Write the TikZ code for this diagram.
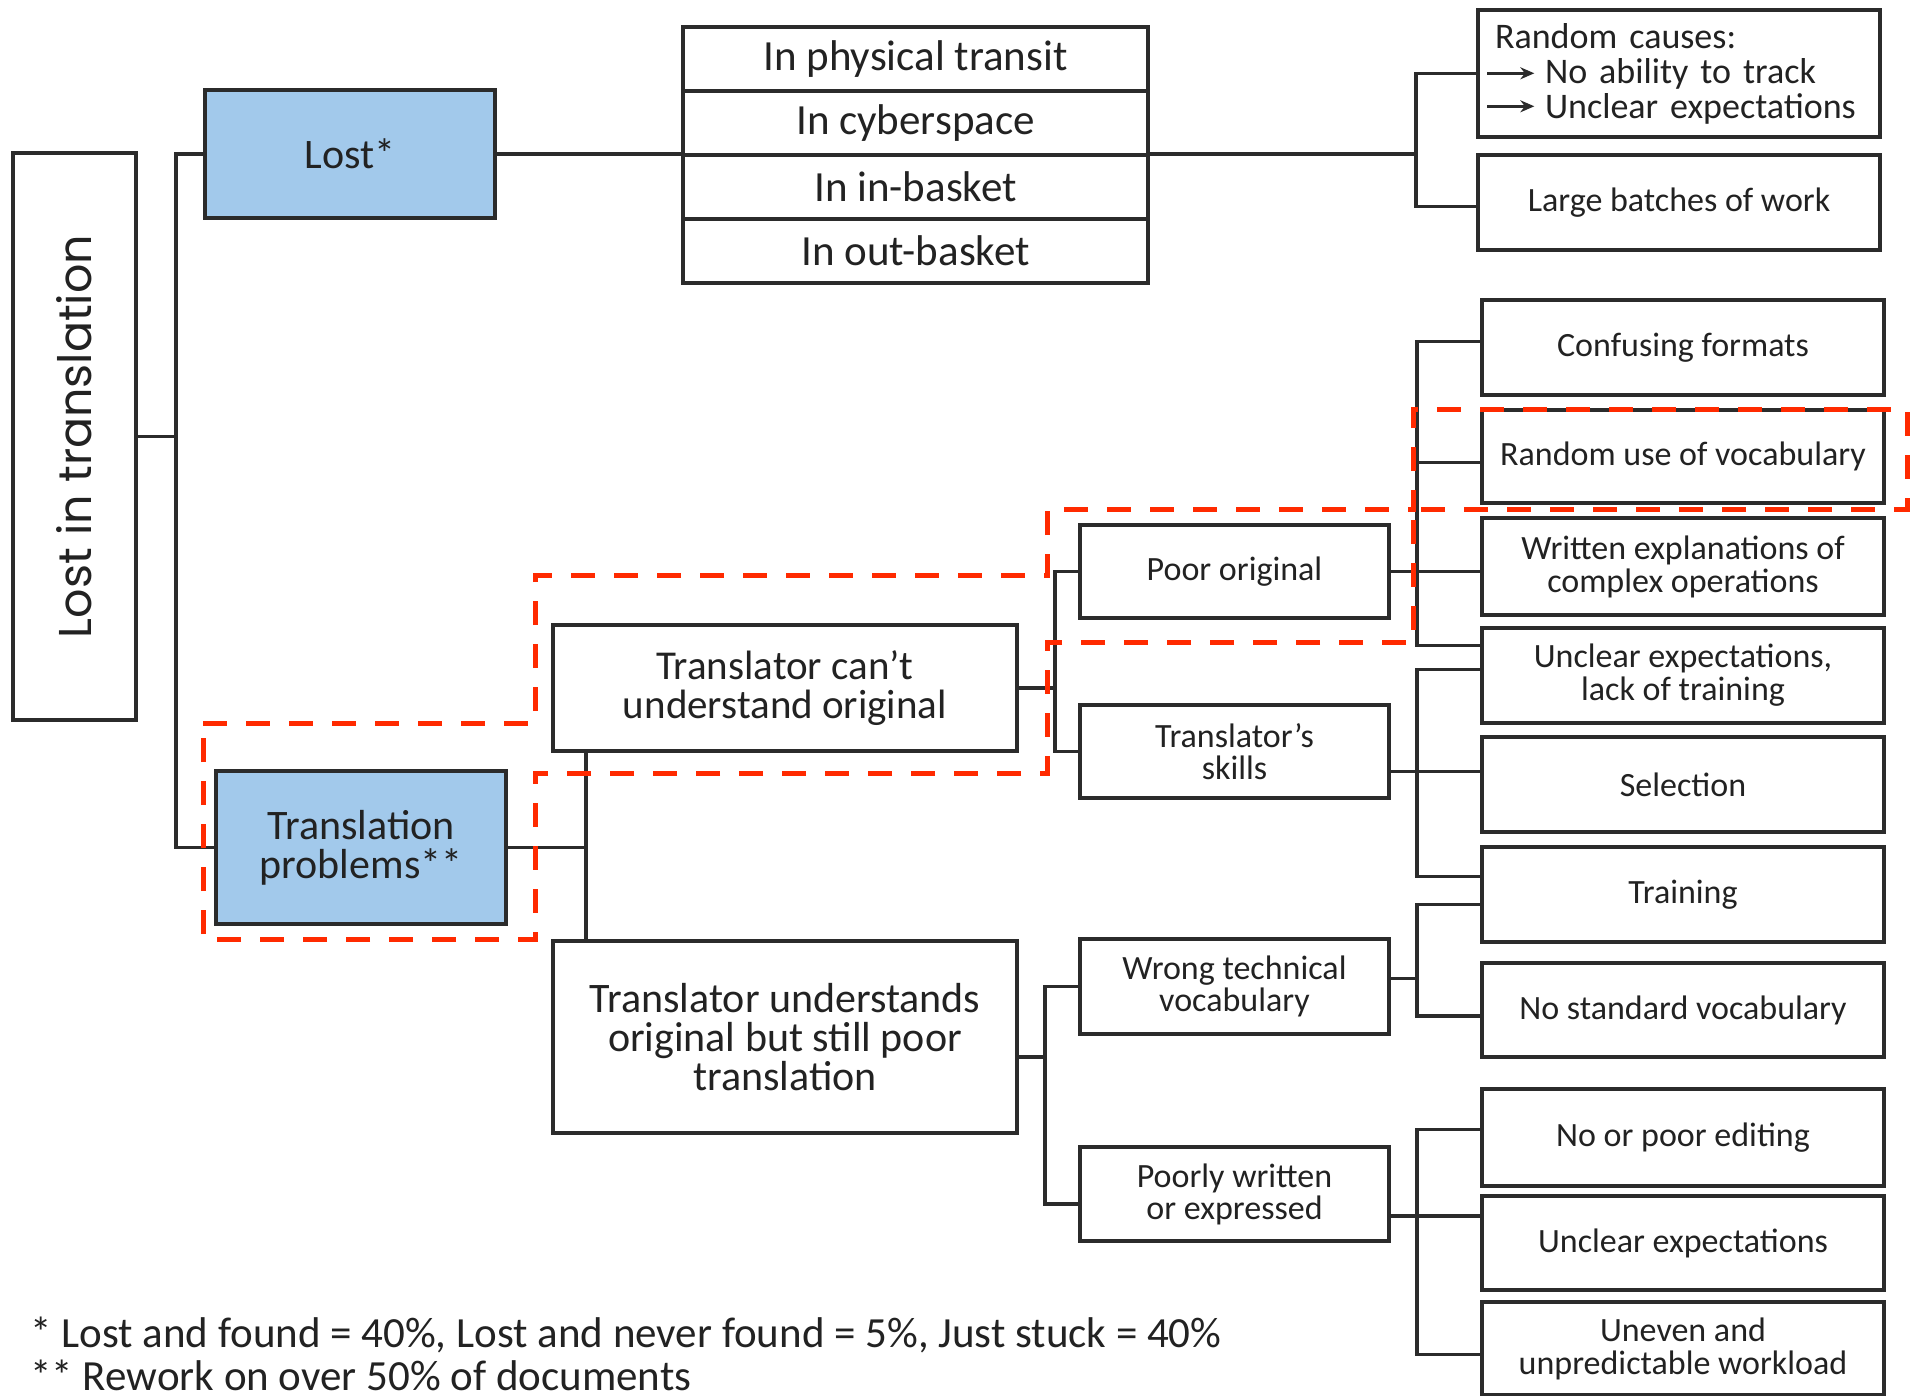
\documentclass[tikz,border=0pt]{standalone}
\usepackage{fontspec}
\setmainfont{Carlito}
\newfontfamily\poppfont{Poppins}
\usetikzlibrary{arrows.meta}
\definecolor{boxline}{HTML}{2B2B2B}
\definecolor{lblue}{HTML}{A2C9EB}
\definecolor{dred}{HTML}{FF2A00}
\definecolor{txt}{HTML}{222222}
\begin{document}
\begin{tikzpicture}[x=0.5pt,y=-0.5pt,
  box/.style={draw=boxline, line width=1.7pt, fill=white, inner sep=0pt, align=center, text=txt},
  bluebox/.style={box, fill=lblue},
  rbox/.style={box, minimum width=201pt, font=\fontsize{17}{16.5}\selectfont},
  mbox/.style={box, minimum width=154.5pt, font=\fontsize{17}{16}\selectfont},
  tbox/.style={box, minimum width=232.5pt, minimum height=32pt, font=\fontsize{21.5}{23}\selectfont},
  conn/.style={draw=boxline, line width=1.6pt},
  hilite/.style={draw=dred, line width=2.5pt, dash pattern=on 12pt off 9.5pt, line join=miter}]
\useasboundingbox (0,0) rectangle (1910,1396);
\fill[white] (0,0) rectangle (1910,1396);

% bracket columns
\coordinate (b0) at (176,0);
\coordinate (b1) at (1416,0);
\coordinate (b2) at (586,0);
\coordinate (b3) at (1055,0);
\coordinate (b4) at (1417,0);
\coordinate (b5) at (1045,0);

% nodes
\node[box, rotate=90, minimum width=283.5pt, minimum height=61.5pt, font=\poppfont\fontsize{23}{25}\selectfont] (LT) at (74.5,436.5) {Lost in translation};
\node[bluebox, minimum width=145pt, minimum height=64pt, font=\fontsize{21}{23}\selectfont] (Lost) at (350,154) {Lost*};
\node[tbox] (T1) at (915.5,59) {In physical transit};
\node[tbox] (T2) at (915.5,123) {In cyberspace};
\node[tbox] (T3) at (915.5,187) {In in-basket};
\node[tbox] (T4) at (915.5,251) {In out-basket};

\node[box, minimum width=201pt, minimum height=63.5pt, text width=191pt, inner xsep=5pt, align=left, font=\fontsize{18}{17.5}\selectfont] (RC) at (1679,73.5) {\hspace*{3.5pt}Random causes:\\\hspace*{28.5pt}No ability to track\\\hspace*{28.5pt}Unclear expectations};
\node[rbox, minimum height=47.5pt] (LB) at (1679,202.5) {Large batches of work};
\node[rbox, minimum height=47.5pt] (CF) at (1683,347.5) {Confusing formats};
\node[rbox, minimum height=46.5pt] (RU) at (1683,456.5) {Random use of vocabulary};
\node[rbox, minimum height=48.5pt] (WE) at (1683,566.5) {Written explanations of\\complex operations};
\node[rbox, minimum height=47.5pt] (UL) at (1683,675.5) {Unclear expectations,\\lack of training};
\node[rbox, minimum height=47.5pt] (SE) at (1683,784.5) {Selection};
\node[rbox, minimum height=47.5pt] (TR) at (1683,894.5) {Training};
\node[rbox, minimum height=47pt] (NS) at (1683,1010) {No standard vocabulary};
\node[rbox, minimum height=48.5pt] (NP) at (1683,1137.5) {No or poor editing};
\node[rbox, minimum height=47pt] (UE) at (1683,1243) {Unclear expectations};
\node[rbox, minimum height=46.5pt] (UN) at (1683,1348.5) {Uneven and\\unpredictable workload};

\node[mbox, minimum height=46.5pt] (PO) at (1234.5,571.5) {Poor original};
\node[mbox, minimum height=46.5pt] (SK) at (1234.5,751.5) {Translator’s\\skills};
\node[mbox, minimum height=47.5pt] (WT) at (1234.5,986.5) {Wrong technical\\vocabulary};
\node[mbox, minimum height=47pt] (PW) at (1234.5,1194) {Poorly written\\or expressed};

\node[box, minimum width=232pt, minimum height=63pt, font=\fontsize{20.5}{19.5}\selectfont] (CU) at (785,688) {Translator can’t\\understand original};
\node[box, minimum width=232pt, minimum height=96pt, font=\fontsize{21}{19.5}\selectfont] (UD) at (785,1037) {Translator understands\\original but still poor\\translation};
\node[bluebox, minimum width=145pt, minimum height=76.5pt, font=\fontsize{21}{19.5}\selectfont] (TP) at (361,847.5) {Translation\\problems**};

% arrows inside Random causes box
\draw[conn, line width=1.3pt, -{Stealth[length=7pt,width=6pt]}] ([xshift=5.5pt,yshift=-32.5pt]RC.north west) -- ([xshift=29pt,yshift=-32.5pt]RC.north west);
\draw[conn, line width=1.3pt, -{Stealth[length=7pt,width=6pt]}] ([xshift=5.5pt,yshift=-49pt]RC.north west) -- ([xshift=29pt,yshift=-49pt]RC.north west);

% connectors
\draw[conn] (LT.south) -- (LT.south -| b0);
\draw[conn] (Lost.west) -- (Lost.west -| b0) -- (TP.west -| b0) -- (TP.west);
\draw[conn] (Lost.east) -- (Lost.east -| T1.west);
\draw[conn] (Lost.east -| T1.east) -- (Lost.east -| b1);
\draw[conn] (RC.west) -- (RC.west -| b1) -- ([yshift=-2pt]LB.west -| b1) -- ([yshift=-2pt]LB.west);

\draw[conn] (TP.east) -- (TP.east -| b2);
\draw[conn] (CU.south -| b2) -- (UD.north -| b2);

\draw[conn] (CU.east) -- (CU.east -| b3);
\draw[conn] (PO.west) -- (PO.west -| b3) -- (SK.west -| b3) -- (SK.west);

\draw[conn] (PO.east) -- (PO.east -| WE.west);
\draw[conn] ([yshift=3pt]CF.west) -- ([yshift=3pt]CF.west -| b4) -- ([yshift=15pt]UL.west -| b4) -- ([yshift=15pt]UL.west);
\draw[conn] ([yshift=-3pt]RU.west -| b4) -- ([yshift=-3pt]RU.west);

\draw[conn] ([yshift=-10pt]SK.east) -- ([yshift=-10pt]SK.east -| SE.west);
\draw[conn] ([yshift=3pt]UL.west) -- ([yshift=3pt]UL.west -| b4) -- ([yshift=9pt]TR.west -| b4) -- ([yshift=9pt]TR.west);

\draw[conn] ([yshift=-10pt]UD.east) -- ([yshift=-10pt]UD.east -| b5);
\draw[conn] (WT.west) -- (WT.west -| b5) -- ([yshift=-5pt]PW.west -| b5) -- ([yshift=-5pt]PW.west);

\draw[conn] ([yshift=4pt]WT.east) -- ([yshift=4pt]WT.east -| b4);
\draw[conn] ([yshift=-5pt]TR.west) -- ([yshift=-5pt]TR.west -| b4) -- ([yshift=-3pt]NS.west -| b4) -- ([yshift=-3pt]NS.west);

\draw[conn] ([yshift=-11pt]PW.east) -- ([yshift=-11pt]PW.east -| UE.west);
\draw[conn] ([yshift=4pt]NP.west) -- ([yshift=4pt]NP.west -| b4) -- ([yshift=-3pt]UN.west -| b4) -- ([yshift=-3pt]UN.west);

% footnotes
\node[anchor=base west, inner sep=0pt, text=txt, font=\fontsize{21.5}{23}\selectfont] (fn1) at (30,1347) {* Lost and found = 40\%, Lost and never found = 5\%, Just stuck = 40\%};
\node[anchor=base west, inner sep=0pt, text=txt, font=\fontsize{21.5}{23}\selectfont] (fn2) at (30,1390) {** Rework on over 50\% of documents};

% highlighted path
\draw[hilite] (203,723) -- (535,723) -- (535,575) -- (1047,575) -- (1047,509) -- (1413,509) -- (1413,409) -- (1907,409) -- (1907,509) -- (1413,509) -- (1413,642) -- (1047,642) -- (1047,773) -- (535,773) -- (535,939) -- (203,939) -- cycle;
\end{tikzpicture}
\end{document}
